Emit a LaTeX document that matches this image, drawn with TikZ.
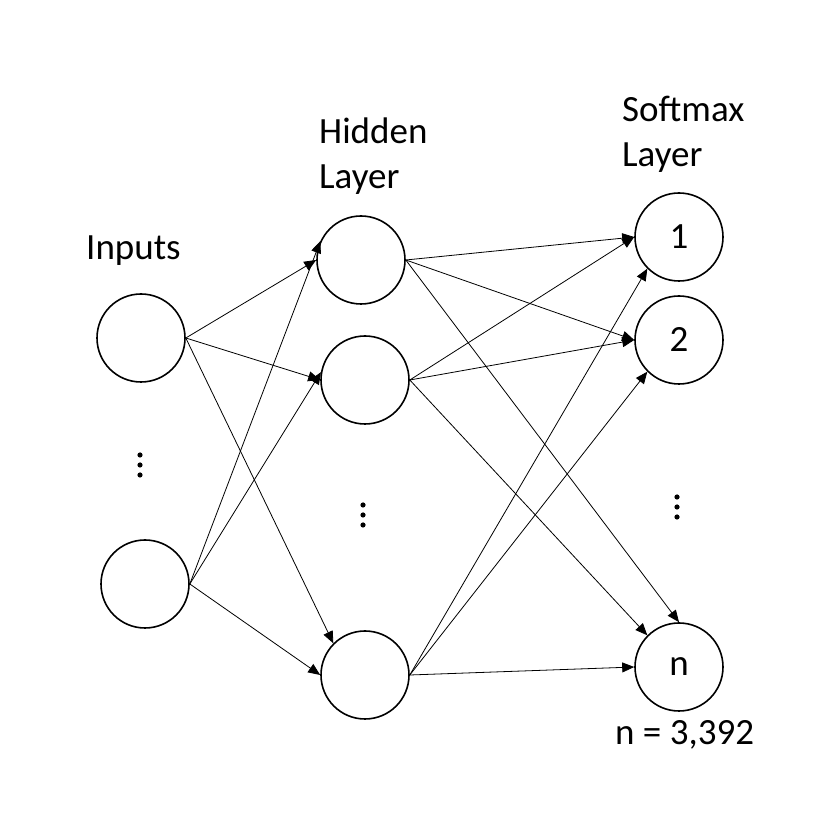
\documentclass[tikz,border=0pt]{standalone}
\usepackage{fontspec}
\setmainfont{Carlito}
\usetikzlibrary{arrows.meta}
\begin{document}
\begin{tikzpicture}[x=1pt,y=1pt,
  neuron/.style={circle,draw,line width=1.6pt,minimum size=88pt,inner sep=0pt,font=\fontsize{37}{45}\selectfont},
  conn/.style={line width=0.8pt,-{Triangle[length=12pt,width=10pt]}},
  lbl/.style={inner sep=0pt,align=left,font=\fontsize{37}{45}\selectfont},
  dotmark/.style={circle,fill,inner sep=0pt,minimum size=5.2pt}]
\useasboundingbox (0,0) rectangle (822,814);
% nodes
\node[neuron] (in1) at (141,476) {};
\node[neuron] (in2) at (145,230) {};
\node[neuron] (h1) at (361,554) {};
\node[neuron] (h2) at (365,434) {};
\node[neuron] (h3) at (365,139) {};
\node[neuron] (s1) at (679,577) {1};
\node[neuron] (s2) at (679,474) {2};
\node[neuron] (sn) at (679,147) {n};
% labels (base anchor = baseline of the last line)
\node[lbl,anchor=base west] (linputs) at (86,554) {Inputs};
\node[lbl,anchor=base west] (lhidden) at (319,625) {Hidden\\Layer};
\node[lbl,anchor=base west] (lsoft) at (622,647) {Softmax\\Layer};
\node[lbl,anchor=base west] (lcount) at (615,69) {n = 3,392};
% dots
\foreach \i/\x/\y in {a/140/349,b/363/299,c/677/307}{
  \node[dotmark] (d\i1) at (\x,\y+10) {};
  \node[dotmark] (d\i2) at (\x,\y) {};
  \node[dotmark] (d\i3) at (\x,\y-10) {};
}
% connectors
\draw[conn] (in1.east) -- (h1.west);
\draw[conn] (in1.east) -- (h2.west);
\draw[conn] (in1.east) -- (h3.135);
\draw[conn] (in2.east) -- (h1.155);
\draw[conn] (in2.east) -- (h2.170);
\draw[conn] (in2.east) -- (h3.west);
\draw[conn] (h1.east) -- (s1.west);
\draw[conn] (h1.east) -- (s2.west);
\draw[conn] (h1.east) -- (sn.north);
\draw[conn] (h2.east) -- (s1.west);
\draw[conn] (h2.east) -- (s2.west);
\draw[conn] (h2.east) -- (sn.135);
\draw[conn] (h3.east) -- (s1.225);
\draw[conn] (h3.east) -- (s2.225);
\draw[conn] (h3.east) -- (sn.west);
\end{tikzpicture}
\end{document}
